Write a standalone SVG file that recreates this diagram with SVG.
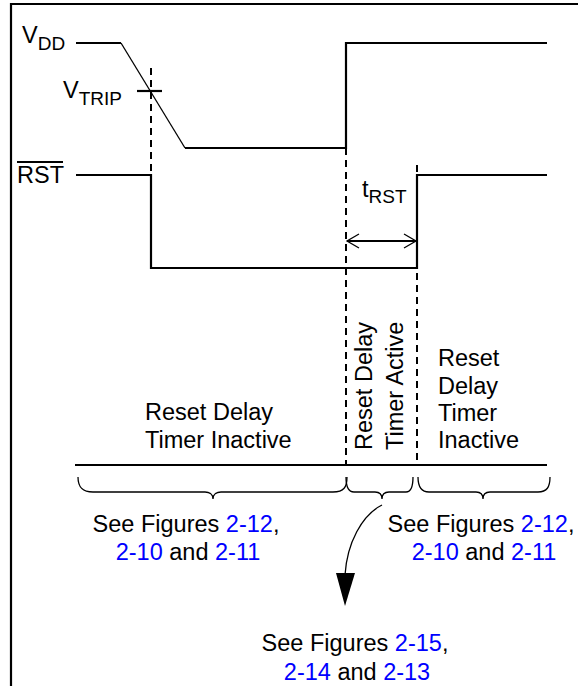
<svg xmlns="http://www.w3.org/2000/svg" width="578" height="686" viewBox="0 0 578 686">
<style>
.t{font-family:"Liberation Sans",Arial,sans-serif;font-size:23.5px;fill:#000}
.s{font-size:19px}
.b{fill:#0000ff}
.w{fill:none;stroke:#000;stroke-width:2.2}
.thin{fill:none;stroke:#000;stroke-width:1.3}
.d{fill:none;stroke:#000;stroke-width:2;stroke-dasharray:7,5}
</style>
<rect width="578" height="686" fill="#fff"/>
<g id="frame">
<path class="w" d="M11,686 V4 H578" stroke-width="2.6"/>
</g>
<g id="vdd">
<text class="t" x="22" y="43">V<tspan class="s" dy="7">DD</tspan></text>
<path class="w" d="M76,43 H121"/>
<path class="thin" d="M121,43 L185,148"/>
<path class="w" d="M185,148 H346 V43 H547"/>
</g>
<g id="vtrip">
<text class="t" x="63" y="98">V<tspan class="s" dy="7">TRIP</tspan></text>
<path class="w" d="M137,91 H162"/>
</g>
<g id="rst">
<text class="t" x="17" y="183">RST</text>
<path class="w" d="M17,162 H63" stroke-width="1.8"/>
<path class="w" d="M76,175 H151 V268 H417 V175 H547"/>
</g>
<g id="trst">
<text class="t" x="362" y="197">t<tspan class="s" dy="6">RST</tspan></text>
</g>
<g id="connectors">
<path class="d" d="M151,68 V175"/>
<path class="d" d="M346,148 V465"/>
<path class="d" d="M417,165 V465"/>
<path class="w" d="M347,241 H416" stroke-width="2"/>
<path class="thin" d="M359,234 L347,241 L359,248 M404,234 L416,241 L404,248"/>
<path class="w" d="M75,465 H547"/>
<path class="thin" d="M78,477 C78,487 82,492 93,492 H205 C209,492 213,494 213,499 C213,494 217,492 221,492 H333 C344,492 347,487 347,477"/>
<path class="thin" d="M346,477 C346,487 348,492 354,492 H375 C379,492 382,494 382,499 C382,494 385,492 389,492 H406 C411,492 413,487 413,477"/>
<path class="thin" d="M418,477 C418,487 421,492 429,492 H476 C480,492 483,494 483,499 C483,494 486,492 490,492 H538 C547,492 550,487 550,477"/>
<path class="thin" d="M382,505 C362,515 347,543 345,575"/>
<path d="M336,573 L355,573 L345,606 Z" fill="#000"/>
</g>
<g id="inactive-left">
<text class="t" x="145" y="420">Reset Delay</text>
<text class="t" x="145" y="448">Timer Inactive</text>
</g>
<g id="active">
<text class="t" transform="translate(372,450) rotate(-90)">Reset Delay</text>
<text class="t" transform="translate(403,450) rotate(-90)">Timer Active</text>
</g>
<g id="inactive-right">
<text class="t" x="438" y="366">Reset</text>
<text class="t" x="438" y="394">Delay</text>
<text class="t" x="438" y="421">Timer</text>
<text class="t" x="438" y="448">Inactive</text>
</g>
<g id="ref-left" text-anchor="middle">
<text class="t" x="186" y="532">See Figures <tspan class="b">2-12</tspan>,</text>
<text class="t" x="188" y="560"><tspan class="b">2-10</tspan> and <tspan class="b">2-11</tspan></text>
</g>
<g id="ref-right" text-anchor="middle">
<text class="t" x="481" y="532">See Figures <tspan class="b">2-12</tspan>,</text>
<text class="t" x="484" y="560"><tspan class="b">2-10</tspan> and <tspan class="b">2-11</tspan></text>
</g>
<g id="ref-bottom" text-anchor="middle">
<text class="t" x="355" y="651">See Figures <tspan class="b">2-15</tspan>,</text>
<text class="t" x="357" y="680"><tspan class="b">2-14</tspan> and <tspan class="b">2-13</tspan></text>
</g>
</svg>
